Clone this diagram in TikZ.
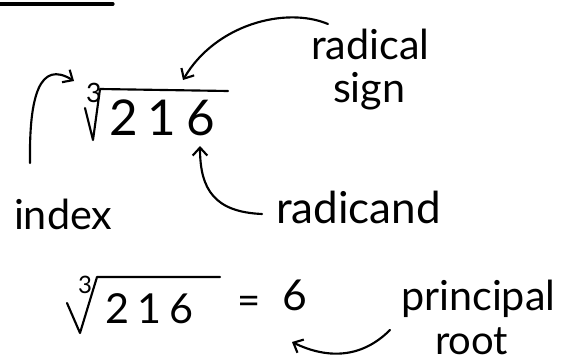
\documentclass[tikz,border=0pt]{standalone}
\usepackage{fontspec}
\setmainfont{Lato}
\newfontfamily\digitfont[LetterSpace=20]{Lato}
\usetikzlibrary{arrows.meta}
\tikzset{
  hand/.style={inner sep=0pt, anchor=base west},
  lbl/.style={hand, font=\fontsize{31}{34}\selectfont},
  ptr/.style={-{Straight Barb[length=6pt,width=11pt]}, line width=1.6pt, line cap=round, line join=round}
}
\begin{document}
\begin{tikzpicture}[x=0.75pt, y=-0.75pt, line width=1.6pt, line cap=round, line join=round]
      \useasboundingbox (0,0) rectangle (561,364);
      \draw[line width=2.4pt] (0,4) -- (113,4);

      % Top radical
      \node[hand, font=\digitfont\fontsize{37}{40}\selectfont] (num1) at (108,135) {216};
      \node[hand, font=\fontsize{20}{22}\selectfont] (idx1) at (85,102) {3};
      \draw (85,108) -- (93,140) -- (100,89) -- (228,91);

      % Labels
      \node[lbl] (radical) at (310,60) {radical};
      \node[lbl] (sign) at (332,102) {sign};
      \node[lbl] (index) at (13,229) {index};
      \node[lbl, font=\fontsize{33}{36}\selectfont] (radicand) at (275,223) {radicand};
      \coordinate (signtip) at (183,80);
      \coordinate (idxtip) at (74,81);
      \coordinate (radtip) at (200,146);

      % Bottom radical
      \node[hand, font=\digitfont\fontsize{31}{34}\selectfont] (num2) at (104,323) {216};
      \node[hand, font=\fontsize{18}{20}\selectfont] (idx2) at (77,293) {3};
      \draw (67,303) -- (80,333) -- (97,277) -- (220,277);
      \node[inner sep=0pt, font=\fontsize{30}{32}\selectfont] (eq) at (249,305) {=};
      \node[hand, font=\fontsize{32}{34}\selectfont] (six) at (281,310) {6};
      \node[lbl] (principal) at (400,310) {principal};
      \node[lbl, font=\fontsize{30}{33}\selectfont] (root) at (434,354) {root};
      \coordinate (roottip) at (292,342);

      % Pointers
      \draw[ptr] (328,24) .. controls (285,6) and (215,25) .. (signtip);
      \draw[ptr] (30,163) .. controls (29,95) and (40,60) .. (idxtip);
      \draw[ptr] (262,214) .. controls (215,212) and (200,190) .. (radtip);
      \draw[ptr] (390,330) .. controls (360,360) and (325,358) .. (roottip);
    \end{tikzpicture}
\end{document}
